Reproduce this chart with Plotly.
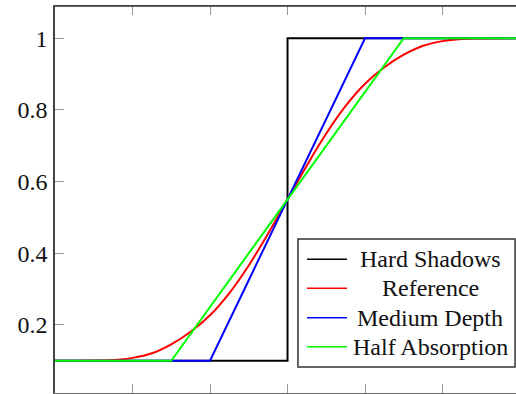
import plotly.graph_objects as go

# ---- data ----
hard_x = [-3, 0, 0, 3]
hard_y = [0.1, 0.1, 1.0, 1.0]

ref_x = [-3, -2.5, -2.25, -2, -1.75, -1.5, -1.25, -1, -0.75, -0.5, -0.25, 0,
         0.25, 0.5, 0.75, 1, 1.25, 1.5, 1.75, 2, 2.25, 2.5, 3]
ref_y = [0.1, 0.1005, 0.102, 0.108, 0.121, 0.146, 0.181, 0.227, 0.289, 0.366, 0.455, 0.55,
         0.645, 0.734, 0.811, 0.873, 0.919, 0.954, 0.979, 0.992, 0.998, 0.9995, 1.0]

med_x = [-3, -1, 1, 3]
med_y = [0.1, 0.1, 1.0, 1.0]

half_x = [-3, -1.5, 1.5, 3]
half_y = [0.1, 0.1, 1.0, 1.0]

names = ["Hard Shadows", "Reference", "Medium Depth", "Half Absorption"]
colors = ["#000000", "#ff0000", "#0000ff", "#00ff00"]

y_ticks = [0.2, 0.4, 0.6, 0.8, 1]
y_tick_text = ["0.2", "0.4", "0.6", "0.8", "1"]
x_ticks = [-2, -1, 0, 1, 2]

FONT = "Liberation Serif, Times New Roman, serif"

fig = go.Figure()
series = [(hard_x, hard_y, "linear"), (ref_x, ref_y, "spline"),
          (med_x, med_y, "linear"), (half_x, half_y, "linear")]
for (xs, ys, shape), name, col in zip(series, names, colors):
    fig.add_trace(go.Scatter(x=xs, y=ys, mode="lines", name=name,
                             line=dict(color=col, width=2, shape=shape),
                             showlegend=False, cliponaxis=True))

# custom pgfplots-style legend
lx0, lx1, ly0, ly1 = 0.527, 0.998, 0.067, 0.398
fig.add_shape(type="rect", xref="paper", yref="paper", x0=lx0, x1=lx1, y0=ly0, y1=ly1,
              line=dict(color="#333333", width=1.5), fillcolor="white", layer="above")
row_y = [0.3455, 0.2705, 0.1946, 0.1196]
for name, col, ry in zip(names, colors, row_y):
    fig.add_shape(type="line", xref="paper", yref="paper", x0=0.5466, x1=0.6334,
                  y0=ry, y1=ry, line=dict(color=col, width=1.5), layer="above")
    fig.add_annotation(xref="paper", yref="paper", x=0.8145, y=ry, text=name,
                       showarrow=False, xanchor="center", yanchor="middle",
                       font=dict(family=FONT, size=24, color="#111111"))

# top border
fig.add_shape(type="line", xref="paper", yref="paper", x0=0, x1=1.02, y0=1, y1=1,
              line=dict(color="#333333", width=1.5), layer="above")

fig.update_layout(
    width=516, height=394,
    margin=dict(l=55, r=0, t=6, b=1),
    paper_bgcolor="white", plot_bgcolor="white",
    font=dict(family=FONT, size=24, color="#111111"),
    xaxis=dict(range=[-3, 2.948], tickvals=x_ticks, ticktext=["" for _ in x_ticks],
               showgrid=False, zeroline=False, showline=True, linecolor="#666666",
               linewidth=1, ticks="inside", ticklen=9, tickcolor="#999999", tickwidth=1,
               mirror="ticks"),
    yaxis=dict(range=[0.01, 1.09], tickvals=y_ticks, ticktext=y_tick_text,
               showgrid=False, zeroline=False, showline=True, linecolor="#444444",
               linewidth=1.5, ticks="inside", ticklen=9, tickcolor="#999999", tickwidth=1,
               ticklabelstandoff=1, tickfont=dict(family=FONT, size=24, color="#111111")),
)

fig.write_html("out.html")
